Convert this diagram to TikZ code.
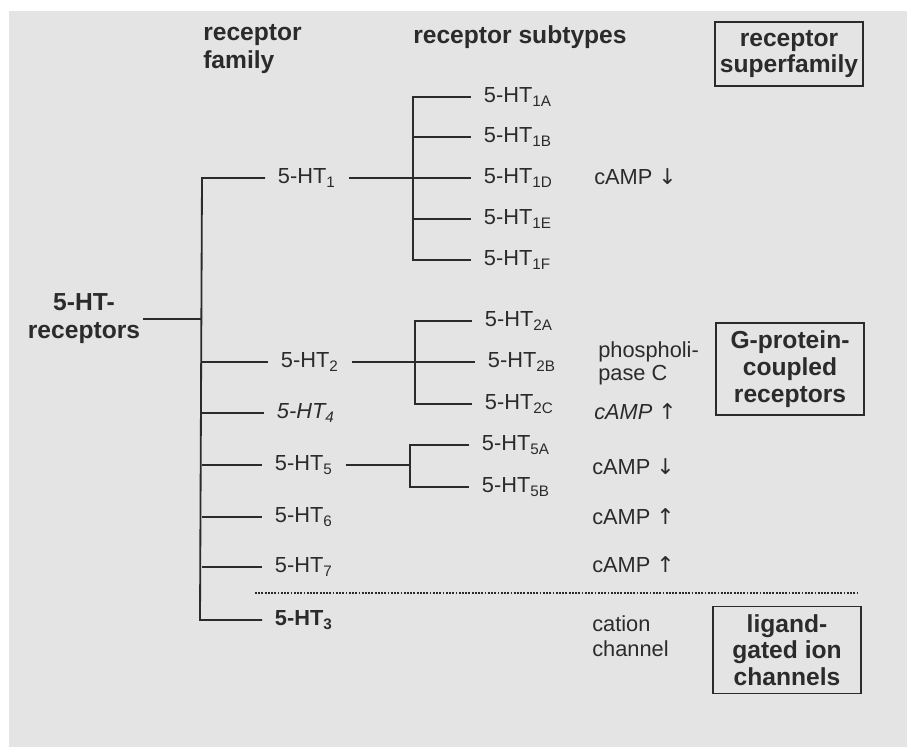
\documentclass[tikz,border=0pt]{standalone}
\usepackage{fontspec}
\setmainfont{Liberation Sans}
\newfontfamily\arrowfont{DejaVu Sans}
\usetikzlibrary{positioning}
\definecolor{paper}{HTML}{E4E4E4}
\definecolor{ink}{HTML}{2B2B2B}
\newcommand{\fiveHT}[1]{5-HT\textsubscript{#1}}
\newcommand{\campup}{cAMP {\arrowfont ↑}}
\newcommand{\campdown}{cAMP {\arrowfont ↓}}
\begin{document}
\begin{tikzpicture}[x=0.025cm,y=-0.025cm,
    every node/.style={text=ink},
    lbl/.style={font=\fontsize{15.5}{17}\selectfont, inner xsep=9pt, inner ysep=2pt, anchor=west},
    eff/.style={font=\fontsize{15.5}{17}\selectfont, align=left, inner sep=0pt, anchor=west},
    head/.style={font=\bfseries\fontsize{17.5}{20}\selectfont, align=left, inner sep=0pt, anchor=west},
    classbox/.style={draw=ink, line width=1.2pt, font=\bfseries\fontsize{17.5}{19}\selectfont,
      align=center, minimum width=3.7cm, inner ysep=5.5pt},
    trunk/.style={draw=ink, line width=1.3pt},
    twig/.style={draw=ink, line width=0.9pt}]
  \fill[white] (0,0) rectangle (907,747);
  \fill[paper] (9,11) rectangle (907,747);

  % headers and classes
  \node[head] (hfam) at (203,49) {receptor\\family};
  \node[head] (hsub) at (413,37) {receptor subtypes};
  \node[classbox] (sup) at (789,54) {receptor\\superfamily};
  \node[classbox] (gpc) at (790,369) {G-protein-\\coupled\\receptors};
  \node[classbox] (lgic) at (787,650) {ligand-\\gated ion\\channels};

  \node[font=\bfseries\fontsize{17.5}{20}\selectfont, align=center, inner sep=2pt] (root) at (84,319) {5-HT-\\receptors};

  % families
  \node[lbl] (fam1) at (265,178) {\fiveHT{1}};
  \node[lbl] (fam2) at (268,362) {\fiveHT{2}};
  \node[lbl] (fam4) at (264,413) {\textit{\fiveHT{4}}};
  \node[lbl] (fam5) at (262,465) {\fiveHT{5}};
  \node[lbl] (fam6) at (262,517) {\fiveHT{6}};
  \node[lbl] (fam7) at (262,567) {\fiveHT{7}};
  \node[lbl, font=\bfseries\fontsize{15.5}{17}\selectfont] (fam3) at (262,620) {\fiveHT{3}};

  % subtypes
  \node[lbl] (s1A) at (471,97) {\fiveHT{1A}};
  \node[lbl] (s1B) at (471,137) {\fiveHT{1B}};
  \node[lbl] (s1D) at (471,178) {\fiveHT{1D}};
  \node[lbl] (s1E) at (471,219) {\fiveHT{1E}};
  \node[lbl] (s1F) at (471,260) {\fiveHT{1F}};
  \node[lbl] (s2A) at (472,321) {\fiveHT{2A}};
  \node[lbl] (s2B) at (475,362) {\fiveHT{2B}};
  \node[lbl] (s2C) at (472,404) {\fiveHT{2C}};
  \node[lbl] (s5A) at (469,445) {\fiveHT{5A}};
  \node[lbl] (s5B) at (469,487) {\fiveHT{5B}};

  % second messengers
  \node[eff] (e1) at (594,177) {\campdown};
  \node[eff, font=\fontsize{15.5}{16.5}\selectfont] (e2) at (598,363) {phospholi-\\pase C};
  \node[eff] (e2c) at (594,412) {\textit{cAMP} {\arrowfont ↑}};
  \node[eff] (e5) at (592,467) {\campdown};
  \node[eff] (e6) at (592,517) {\campup};
  \node[eff] (e7) at (592,565) {\campup};
  \node[eff, font=\fontsize{15.5}{18}\selectfont] (e3) at (592,636) {cation\\channel};

  % tree
  \coordinate (jtop) at (202,178);
  \coordinate (jbot) at (200,620);
  \coordinate (b1) at (413,178);
  \coordinate (b2) at (415,362);
  \coordinate (b5) at (410,465);
  \draw[trunk] (root.east) -- (jtop |- root.east);
  \draw[trunk] (fam1.west) -- (jtop) -- (jbot |- fam3.west) -- (fam3.west);
  \foreach \f in {fam2,fam4,fam5,fam6,fam7}
    \draw[trunk] (jtop |- \f.west) -- (\f.west);

  \draw[twig] (fam1.east) -- (s1D.west);
  \draw[twig] (s1A.west) -| (b1) |- (s1F.west);
  \foreach \s in {s1B,s1E}
    \draw[twig] (b1 |- \s.west) -- (\s.west);
  \draw[twig] (fam2.east) -- (s2B.west);
  \draw[twig] (s2A.west) -| (b2) |- (s2C.west);
  \draw[twig] (fam5.east) -- (b5);
  \draw[twig] (s5A.west) -| (b5) |- (s5B.west);

  % G-protein / ion channel divide
  \coordinate (dl) at (255,593);
  \coordinate (dr) at (857,593);
  \draw[ink, line width=1.3pt, densely dotted] (dl) -- (dr);
\end{tikzpicture}
\end{document}
